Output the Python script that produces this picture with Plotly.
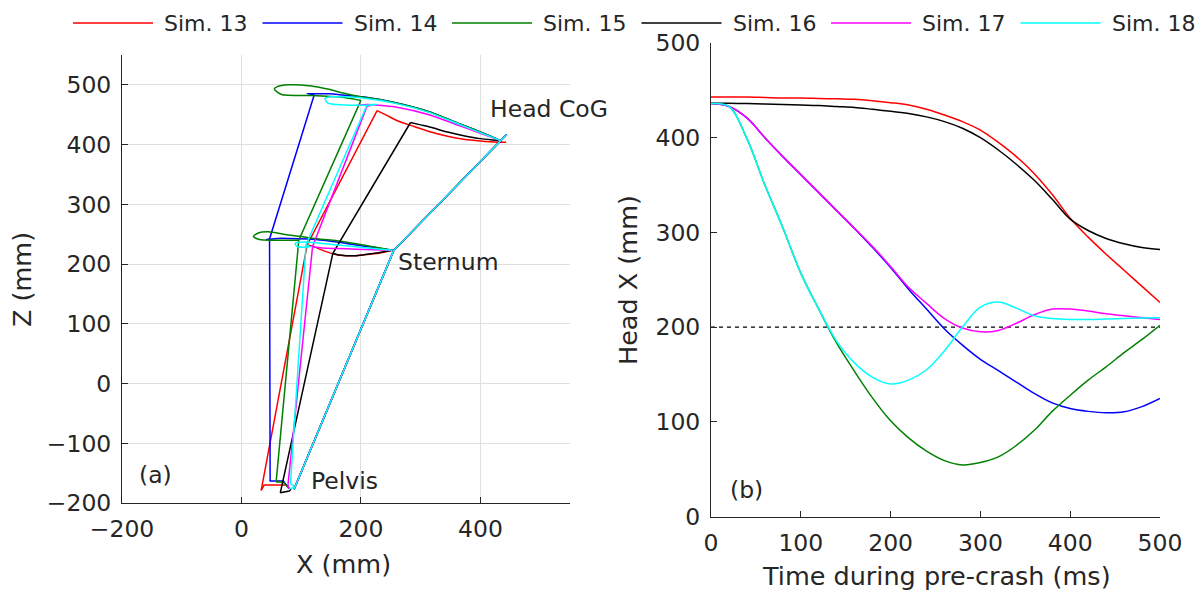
import plotly.graph_objects as go

# ---------------- data ----------------
SIMS = [13, 14, 15, 16, 17, 18]
SIM_LABELS = ["Sim. 13", "Sim. 14", "Sim. 15", "Sim. 16", "Sim. 17", "Sim. 18"]
COLORS = {13: "#FF0000", 14: "#0000FF", 15: "#008000", 16: "#000000", 17: "#FF00FF", 18: "#00FFFF"}

# (a) initial posture: pelvis, sternum, head (mm)
INIT_X = [88, 255, 444]
INIT_Z = [-177, 223, 417]

# (a) final posture: pelvis, sternum, head (mm)
FINAL_X = {13: [33, 110, 227], 14: [48, 47, 122], 15: [58, 96, 200],
           16: [65, 153, 283], 17: [78, 119, 210], 18: [82, 108, 210]}
FINAL_Z = {13: [-179, 232, 457], 14: [-163, 242, 484], 15: [-165, 240, 474],
           16: [-183, 218, 437], 17: [-168, 229, 464], 18: [-168, 232, 466]}

# (a) head CoG trajectories
HEAD_X = {
    13: [443, 428, 400, 372, 345, 317, 290, 261, 245, 227],
    14: [433, 400, 367, 314, 258, 203, 170, 147, 122, 110, 116, 122],
    15: [433, 400, 367, 314, 258, 228, 200, 172, 144, 117, 78, 60, 55, 67, 117, 172, 200],
    16: [436, 428, 400, 372, 345, 317, 300, 283],
    17: [433, 400, 367, 314, 258, 230, 210, 195, 205, 220, 210],
    18: [433, 400, 367, 314, 258, 203, 172, 150, 140, 144, 160, 185, 210, 227, 218, 210],
}
HEAD_Z = {
    13: [404, 404, 406, 409, 414, 421, 430, 440, 448, 457],
    14: [407, 421, 434, 455, 470, 480, 483, 485, 485, 485, 484.5, 484],
    15: [407, 421, 434, 455, 470, 476, 480, 486, 493, 498, 500, 497, 493, 484, 482, 479, 474],
    16: [406, 407, 410, 415, 421, 429, 433, 437],
    17: [407, 419, 431, 450, 463, 466, 467, 466, 466, 467, 464],
    18: [407, 420, 433, 454, 469, 478, 480, 480, 477, 470, 467, 466, 466, 467, 467, 466],
}

# (a) sternum trajectories
STERNUM_X = {
    13: [253, 230, 208, 190, 175, 158, 136, 119, 110],
    14: [253, 220, 192, 160, 136, 110, 80, 60, 42, 47],
    15: [253, 220, 192, 160, 130, 100, 70, 45, 28, 20, 30, 55, 80, 96],
    16: [253, 230, 208, 190, 175, 163, 153],
    17: [253, 220, 192, 160, 135, 119],
    18: [253, 220, 192, 160, 130, 105, 90, 92, 102, 115, 108],
}
STERNUM_Z = {
    13: [223, 218, 216, 214, 214, 216, 223, 230, 232],
    14: [223, 228, 232, 237, 240, 242, 243, 243, 241, 242],
    15: [223, 229, 234, 239, 242, 246, 250, 254, 252, 246, 241, 240, 240, 240],
    16: [223, 219, 216, 214, 214, 215, 218],
    17: [223, 224, 225, 226, 227, 229],
    18: [223, 226, 229, 232, 235, 237, 235, 230, 228, 229, 232],
}

# (a) pelvis trajectories
PELVIS_X = {13: [80, 75, 55, 38, 33], 14: [80, 70, 47, 48], 15: [80, 70, 58],
            16: [83, 80, 65], 17: [80, 78, 78], 18: [80, 88, 86, 82]}
PELVIS_Z = {13: [-176, -170, -170, -170, -179], 14: [-176, -163, -163, -163], 15: [-176, -165, -165],
            16: [-177, -180, -183], 17: [-176, -172, -168], 18: [-176, -174, -170, -168]}

# (b) head X vs time (ms)
TIME = [0, 20, 40, 60, 80, 100, 120, 140, 160, 180, 200, 220, 240,
        260, 280, 300, 320, 340, 360, 380, 400, 420, 440, 460, 480, 500]
HEAD_XT = {
    13: [443, 443, 443, 442.5, 442, 442, 441.5, 441, 440.5, 439, 437, 434.5, 430,
         424, 417, 408, 395, 380, 362, 340, 315, 295, 277, 260, 243, 226],
    14: [436, 433, 421, 400, 380, 361, 342, 323, 304, 284, 263, 240, 219,
         198, 181, 166, 154, 142, 130, 120, 114, 111, 109.5, 110.5, 116, 124.6],
    15: [436, 433, 399, 350, 305, 257, 219, 183, 153, 125, 101, 83, 69,
         59, 54.5, 57, 63, 75, 91, 111, 128, 144, 158, 173, 187, 202],
    16: [436.5, 436.3, 436, 435.5, 435, 434.5, 434, 433, 432, 430, 428, 425.5, 422,
         417, 410, 400, 387, 372, 355, 335, 314, 302, 293.6, 288, 284, 282],
    17: [436, 433, 421, 400, 380, 361, 342, 323, 304, 285, 264, 242, 225,
         209, 199, 195, 196.5, 204, 213, 219, 219, 217, 214, 212, 210, 208],
    18: [436, 433, 399, 350, 305, 257, 219, 185, 162, 147, 140, 144, 155,
         175, 200, 221, 226.5, 220, 212, 209, 208, 208, 208.5, 209, 209.5, 210],
}
THRESHOLD_T = [0, 500]
THRESHOLD_V = [200, 200]

# ---------------- figure ----------------
FONT = "DejaVu Sans"
TXT = "#262626"
LW = 1.5

fig = go.Figure()

for s in SIMS:
    c = COLORS[s]
    for xs, zs, shape in [(HEAD_X[s], HEAD_Z[s], "spline"),
                          (STERNUM_X[s], STERNUM_Z[s], "spline"),
                          (PELVIS_X[s], PELVIS_Z[s], "linear"),
                          (INIT_X, INIT_Z, "linear"),
                          (FINAL_X[s], FINAL_Z[s], "linear")]:
        fig.add_trace(go.Scatter(x=xs, y=zs, mode="lines", xaxis="x", yaxis="y",
                                 line=dict(color=c, width=LW, shape=shape, smoothing=0.7),
                                 showlegend=False, hoverinfo="skip"))

fig.add_trace(go.Scatter(x=THRESHOLD_T, y=THRESHOLD_V, mode="lines", xaxis="x2", yaxis="y2",
                         line=dict(color="#000000", width=1.2, dash="4px,4px"),
                         showlegend=False, hoverinfo="skip"))
for s in SIMS:
    fig.add_trace(go.Scatter(x=TIME, y=HEAD_XT[s], mode="lines", xaxis="x2", yaxis="y2",
                             line=dict(color=COLORS[s], width=LW, shape="spline", smoothing=1.0),
                             showlegend=False, hoverinfo="skip"))

axis_common = dict(showline=True, linecolor=TXT, linewidth=1, ticks="inside", ticklen=6,
                   tickcolor=TXT, tickwidth=1, zeroline=False, mirror=False, automargin=False,
                   tickfont=dict(family=FONT, size=23.5, color=TXT))
XSTAND = 5
YSTAND = 5

fig.update_layout(
    template="none",
    width=1200, height=591, margin=dict(l=0, r=0, t=0, b=0, pad=0),
    paper_bgcolor="white", plot_bgcolor="white",
    font=dict(family=FONT, color=TXT),
    showlegend=False,
    xaxis=dict(domain=[122 / 1200, 570 / 1200], range=[-200, 550],
               tickvals=[-200, 0, 200, 400], showgrid=True, gridcolor="#dfdfdf", gridwidth=1,
               anchor="y", ticklabelstandoff=XSTAND, **axis_common),
    yaxis=dict(domain=[1 - 503 / 591, 1 - 55 / 591], range=[-200, 550],
               tickvals=[-200, -100, 0, 100, 200, 300, 400, 500], showgrid=True,
               gridcolor="#dfdfdf", gridwidth=1, anchor="x", ticklabelstandoff=YSTAND, **axis_common),
    xaxis2=dict(domain=[711 / 1200, 1160 / 1200], range=[0, 500],
                tickvals=[0, 100, 200, 300, 400, 500], showgrid=False, anchor="y2",
                ticklabelstandoff=XSTAND, **axis_common),
    yaxis2=dict(domain=[1 - 516.5 / 591, 1 - 43 / 591], range=[0, 500],
                tickvals=[0, 100, 200, 300, 400, 500], showgrid=False, anchor="x2",
                ticklabelstandoff=YSTAND, **axis_common),
)

ann_font = dict(family=FONT, size=23.5, color=TXT)
title_font = dict(family=FONT, size=25.5, color=TXT)
anns = [
    dict(x=413, y=460, xref="x", yref="y", text="Head CoG", xanchor="left", yanchor="middle", font=ann_font),
    dict(x=258, y=203, xref="x", yref="y", text="Sternum", xanchor="left", yanchor="middle", font=ann_font),
    dict(x=113, y=-163, xref="x", yref="y", text="Pelvis", xanchor="left", yanchor="middle", font=ann_font),
    dict(x=-175, y=-153, xref="x", yref="y", text="(a)", xanchor="left", yanchor="middle", font=ann_font),
    dict(x=19, y=28, xref="x2", yref="y2", text="(b)", xanchor="left", yanchor="middle", font=ann_font),
    dict(x=22 / 1200, y=1 - 280 / 591, xref="paper", yref="paper", text="Z (mm)", textangle=-90,
         xanchor="center", yanchor="middle", font=title_font),
    dict(x=343 / 1200, y=1 - 564 / 591, xref="paper", yref="paper", text="X (mm)",
         xanchor="center", yanchor="middle", font=title_font),
    dict(x=628 / 1200, y=1 - 280 / 591, xref="paper", yref="paper", text="Head X (mm)", textangle=-90,
         xanchor="center", yanchor="middle", font=title_font),
    dict(x=936 / 1200, y=1 - 576 / 591, xref="paper", yref="paper", text="Time during pre-crash (ms)",
         xanchor="center", yanchor="middle", font=title_font),
]

# custom legend (long line samples as in the reference)
shapes = []
LEG_Y = 1 - 23 / 591
for i, s in enumerate(SIMS):
    x0 = 73 + 189.5 * i
    shapes.append(dict(type="line", xref="paper", yref="paper", x0=x0 / 1200, x1=(x0 + 80) / 1200,
                       y0=LEG_Y, y1=LEG_Y, line=dict(color=COLORS[s], width=LW)))
    anns.append(dict(x=(x0 + 89) / 1200, y=LEG_Y, xref="paper", yref="paper", text=SIM_LABELS[i],
                     xanchor="left", yanchor="middle", showarrow=False,
                     font=dict(family=FONT, size=22, color=TXT)))

for a in anns:
    a.setdefault("showarrow", False)
fig.update_layout(annotations=anns, shapes=shapes)

fig.write_html("out.html")
